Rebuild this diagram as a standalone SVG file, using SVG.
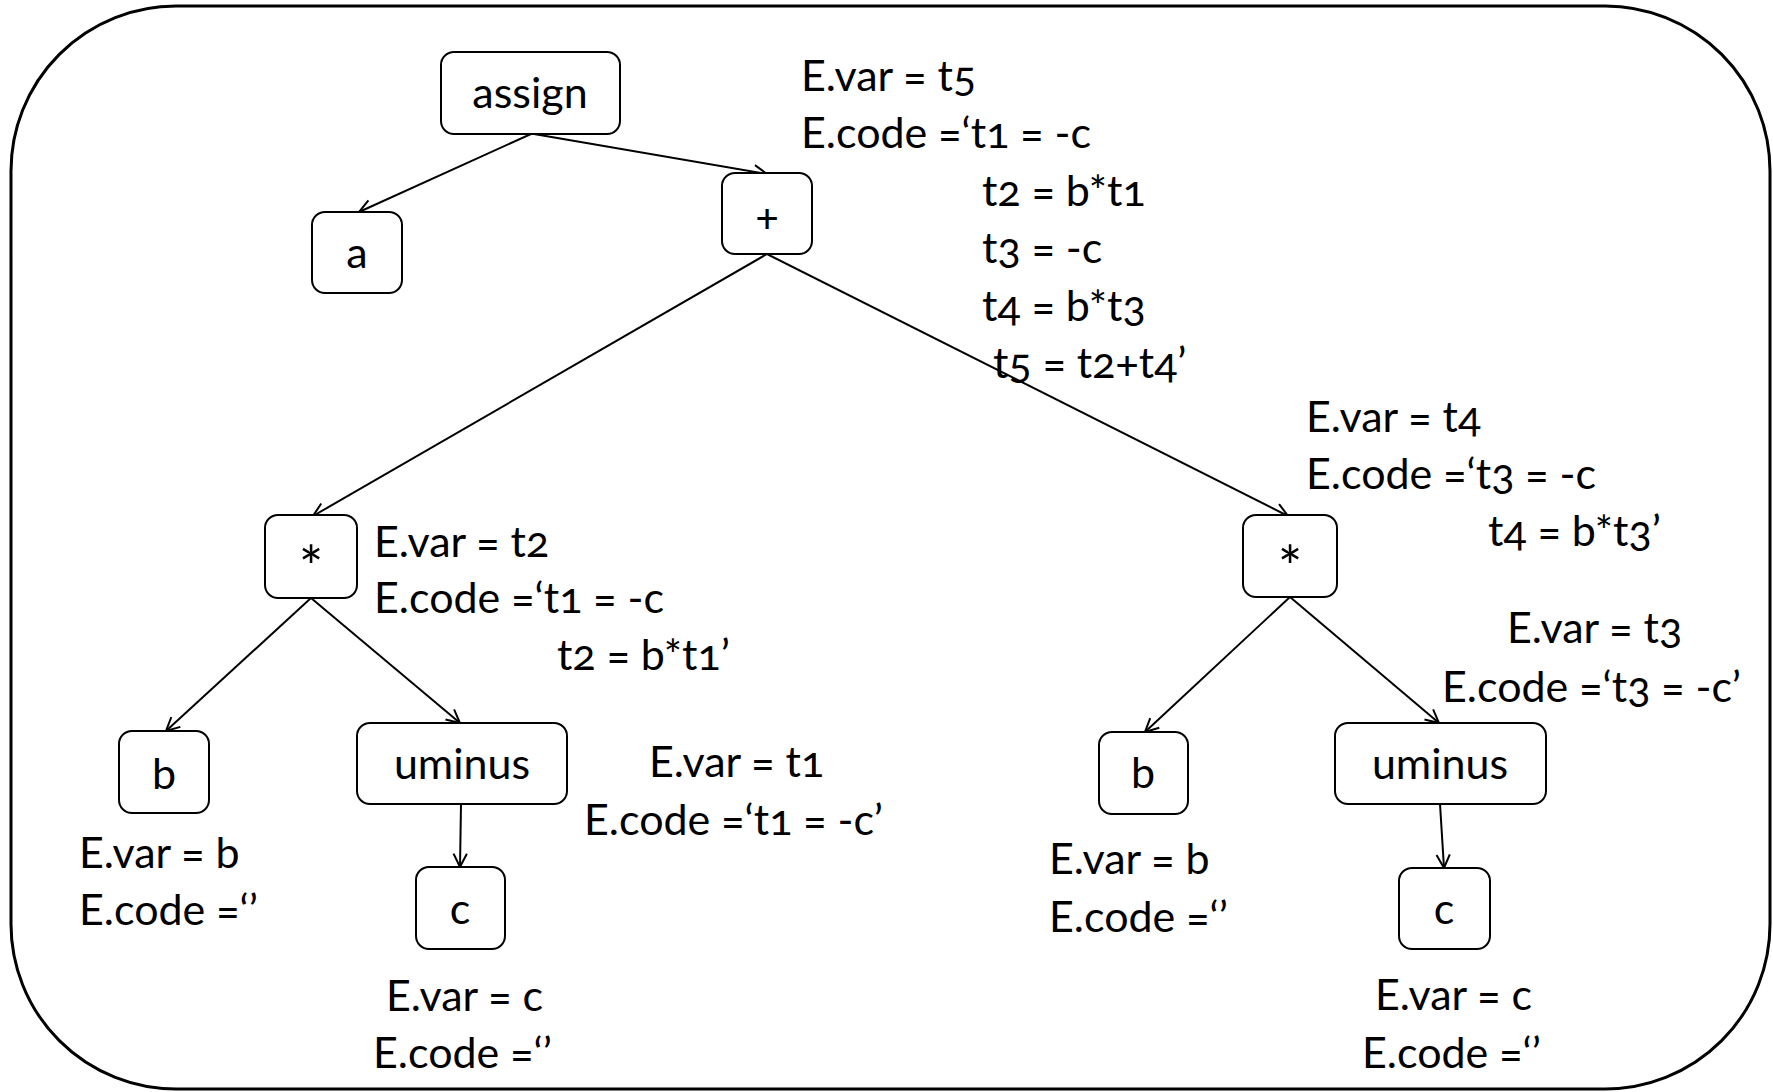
<svg xmlns="http://www.w3.org/2000/svg" width="1773" height="1092" viewBox="0 0 1773 1092">
  <style>
    .frame { fill: #fff; stroke: #000; stroke-width: 3; }
    .node rect { fill: #fff; stroke: #000; stroke-width: 2; }
    .node text { text-anchor: middle; }
    .node text.op { font-size: 58px; }
    text { font-family: Lato, "Open Sans", "Liberation Sans", sans-serif; font-size: 43px; fill: #000; font-variant-numeric: oldstyle-nums; }
    .edge { stroke: #000; stroke-width: 2; fill: none; marker-end: url(#arrow); }
  </style>
  <defs>
    <marker id="arrow" viewBox="0 0 12 12" refX="11" refY="6" markerWidth="16" markerHeight="16" markerUnits="userSpaceOnUse" orient="auto">
      <path d="M1,1 L11,6 L1,11" fill="none" stroke="#000" stroke-width="1.5"/>
    </marker>
  </defs>

  <!-- outer frame -->
  <rect class="frame" x="11" y="6" width="1759" height="1083" rx="165" ry="165"/>

  <!-- tree edges -->
  <g id="edges">
    <line class="edge" x1="531" y1="134" x2="359" y2="212"/>
    <line class="edge" x1="534" y1="134" x2="767" y2="174"/>
    <line class="edge" x1="767" y1="254" x2="313" y2="516"/>
    <line class="edge" x1="767" y1="254" x2="1288" y2="516"/>
    <line class="edge" x1="311" y1="598" x2="166" y2="731"/>
    <line class="edge" x1="311" y1="598" x2="460" y2="723"/>
    <line class="edge" x1="461" y1="804" x2="460" y2="867"/>
    <line class="edge" x1="1290" y1="597" x2="1145" y2="732"/>
    <line class="edge" x1="1290" y1="597" x2="1439" y2="723"/>
    <line class="edge" x1="1440" y1="804" x2="1444" y2="868"/>
  </g>

  <!-- tree nodes -->
  <g id="n-assign" class="node">
    <rect x="441" y="52" width="179" height="82" rx="13"/>
    <text x="530" y="108">assign</text>
  </g>
  <g id="n-a" class="node">
    <rect x="312" y="212" width="90" height="81" rx="13"/>
    <text x="357" y="268">a</text>
  </g>
  <g id="n-plus" class="node">
    <rect x="722" y="173" width="90" height="81" rx="13"/>
    <text x="767" y="231">+</text>
  </g>
  <g id="n-mul-left" class="node">
    <rect x="265" y="515" width="92" height="83" rx="13"/>
    <text class="op" x="311" y="588">*</text>
  </g>
  <g id="n-b-left" class="node">
    <rect x="119" y="731" width="90" height="82" rx="13"/>
    <text x="164" y="789">b</text>
  </g>
  <g id="n-uminus-left" class="node">
    <rect x="357" y="723" width="210" height="81" rx="13"/>
    <text x="462" y="779">uminus</text>
  </g>
  <g id="n-c-left" class="node">
    <rect x="416" y="867" width="89" height="82" rx="13"/>
    <text x="460" y="924">c</text>
  </g>
  <g id="n-mul-right" class="node">
    <rect x="1243" y="515" width="94" height="82" rx="13"/>
    <text class="op" x="1290" y="588">*</text>
  </g>
  <g id="n-b-right" class="node">
    <rect x="1099" y="732" width="89" height="82" rx="13"/>
    <text x="1143" y="788">b</text>
  </g>
  <g id="n-uminus-right" class="node">
    <rect x="1335" y="723" width="211" height="81" rx="13"/>
    <text x="1440" y="779">uminus</text>
  </g>
  <g id="n-c-right" class="node">
    <rect x="1399" y="868" width="91" height="81" rx="13"/>
    <text x="1444" y="924">c</text>
  </g>

  <!-- attribute annotations -->
  <g id="attrs">
    <text x="801" y="91">E.var = t5</text>
    <text x="801" y="148">E.code =‘t1 = -c</text>
    <text x="982" y="206">t2 = b*t1</text>
    <text x="982" y="263">t3 = -c</text>
    <text x="982" y="321">t4 = b*t3</text>
    <text x="993" y="378">t5 = t2+t4’</text>

    <text x="374" y="557">E.var = t2</text>
    <text x="374" y="613">E.code =‘t1 = -c</text>
    <text x="557" y="670">t2 = b*t1’</text>

    <text x="649" y="777">E.var = t1</text>
    <text x="584" y="835">E.code =‘t1 = -c’</text>

    <text x="79" y="868">E.var = b</text>
    <text x="79" y="925">E.code =‘’</text>

    <text x="386" y="1011">E.var = c</text>
    <text x="373" y="1068">E.code =‘’</text>

    <text x="1306" y="432">E.var = t4</text>
    <text x="1306" y="489">E.code =‘t3 = -c</text>
    <text x="1488" y="546">t4 = b*t3’</text>

    <text x="1507" y="643">E.var = t3</text>
    <text x="1442" y="702">E.code =‘t3 = -c’</text>

    <text x="1049" y="874">E.var = b</text>
    <text x="1049" y="932">E.code =‘’</text>

    <text x="1375" y="1010">E.var = c</text>
    <text x="1362" y="1068">E.code =‘’</text>
  </g>
</svg>
